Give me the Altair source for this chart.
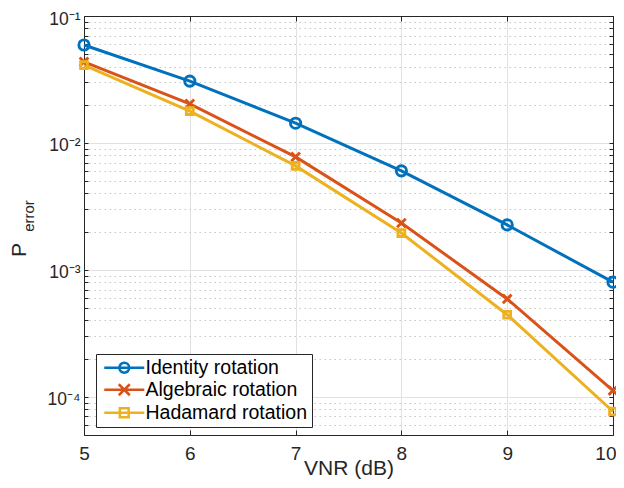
import altair as alt
import pandas as pd

# ---- data ----
vnr = [5, 6, 7, 8, 9, 10]
identity = [0.0591, 0.0307, 0.0143, 0.00603, 0.00226, 0.00080]
algebraic = [0.0435, 0.0203, 0.00776, 0.00234, 0.00059, 0.000112]
hadamard = [0.0410, 0.0178, 0.00659, 0.00195, 0.000443, 0.0000766]
series = ["Identity rotation", "Algebraic rotation", "Hadamard rotation"]
colors = ["#0072BD", "#D95319", "#EDB120"]

x_ticks = [5, 6, 7, 8, 9, 10]
y_major = [1e-4, 1e-3, 1e-2, 1e-1]
y_major_labels = ["10⁻⁴", "10⁻³", "10⁻²", "10⁻¹"]
y_minor = [m * 10.0 ** e for e in (-5, -4, -3, -2) for m in range(2, 10) if m * 10.0 ** e >= 5e-5]
y_ticks = sorted(y_minor + y_major)
y_domain = [5e-5, 1e-1]

FONT = "Liberation Sans"
AX = "#262626"

rows = []
for name, vals in zip(series, [identity, algebraic, hadamard]):
    for xv, yv in zip(vnr, vals):
        rows.append({"vnr": xv, "perr": yv, "series": name})
df = pd.DataFrame(rows)

xscale = alt.Scale(domain=[5, 10], nice=False, zero=False)
yscale = alt.Scale(type="log", domain=y_domain, nice=False)

is_major = "abs(log(datum.value)/LN10 - round(log(datum.value)/LN10)) < 1e-6"
lab_arr = "[" + ",".join("'" + s + "'" for s in y_major_labels) + "]"
label_expr = f"({is_major}) ? {lab_arr}[round(log(datum.value)/LN10) + 4] : ''"
last_x = f"datum.value == {x_ticks[-1]}"

x_axis = alt.Axis(values=x_ticks, title="VNR (dB)", grid=True, gridColor="#e1e1e1",
                  gridWidth=1, domainColor=AX, tickColor=AX, tickSize=alt.ExprRef("-5"),
                  labelFont=FONT, labelFontSize=19, labelColor=AX, labelPadding=14,
                  labelAlign={"condition": {"test": last_x, "value": "right"}, "value": "center"},
                  labelOffset={"condition": {"test": last_x, "value": 3}, "value": 0},
                  titleFont=FONT, titleFontSize=21, titleColor=AX, titleFontWeight="normal",
                  titlePadding=alt.ExprRef("-6"), labelFlush=False)
y_axis = alt.Axis(values=y_ticks, title=None, labelExpr=label_expr, grid=True,
                  gridColor={"condition": {"test": is_major, "value": "#e1e1e1"}, "value": "#c6c6c6"},
                  gridDash={"condition": {"test": is_major, "value": []}, "value": [1.5, 3.5]},
                  gridWidth=1, domainColor=AX, tickColor=AX, tickSize=alt.ExprRef("-4"),
                  labelFont=FONT, labelFontSize=17.5, labelColor=AX, labelPadding=8,
                  labelOffset=3, labelFlush=False)

color_scale = alt.Scale(domain=series, range=colors)

lines = alt.Chart(df).mark_line(strokeWidth=3).encode(
    x=alt.X("vnr:Q", scale=xscale, axis=x_axis),
    y=alt.Y("perr:Q", scale=yscale, axis=y_axis),
    color=alt.Color("series:N", scale=color_scale, legend=None),
    detail="series:N",
)

x_path = "M-1,-1L1,1M-1,1L1,-1"
points = alt.Chart(df).mark_point(filled=False, strokeWidth=2.9, opacity=1).encode(
    x=alt.X("vnr:Q", scale=xscale, axis=None),
    y=alt.Y("perr:Q", scale=yscale, axis=None),
    color=alt.Color("series:N", scale=color_scale, legend=None),
    shape=alt.Shape("series:N", scale=alt.Scale(domain=series, range=["circle", x_path, "square"]), legend=None),
    size=alt.Size("series:N", scale=alt.Scale(domain=series, range=[105, 46, 135]), legend=None),
)

# legend symbols: line with marker (units of 5.5px at size 121)
c = 2.64
leg_circle = f"M-1,0L6.28,0M{c+0.9},0A0.9,0.9 0 1,1 {c-0.9},0A0.9,0.9 0 1,1 {c+0.9},0"
leg_x = f"M-1,0L6.28,0M{c-1},-1L{c+1},1M{c-1},1L{c+1},-1"
leg_sq = f"M-1,0L6.28,0M{c-0.8},-0.8h1.6v1.6h-1.6Z"

frame = alt.Chart(df).transform_filter("false").mark_point(filled=False, opacity=1, strokeWidth=2.5).encode(
    x=alt.X("vnr:Q", scale=xscale,
            axis=alt.Axis(orient="top", values=x_ticks, labels=False, grid=False, title=None,
                          domainColor=AX, tickColor=AX, tickSize=alt.ExprRef("-5"))),
    y=alt.Y("perr:Q", scale=yscale,
            axis=alt.Axis(orient="right", values=y_ticks, labels=False, grid=False, title=None,
                          domainColor=AX, tickColor=AX, tickSize=alt.ExprRef("-4"))),
    color=alt.Color("series:N", scale=color_scale,
                    legend=alt.Legend(title=None, orient="none", legendX=12, legendY=338,
                                      labelFont=FONT, labelFontSize=19.5, labelColor="black",
                                      symbolSize=121, symbolStrokeWidth=2.5, labelOffset=26,
                                      strokeColor=AX, fillColor="white", padding=4,
                                      rowPadding=1, symbolOpacity=1, labelLimit=400)),
    shape=alt.Shape("series:N", scale=alt.Scale(domain=series, range=[leg_circle, leg_x, leg_sq]),
                    legend=alt.Legend(title=None)),
)

one = alt.Data(values=[{"a": 1}])
p_text = alt.Chart(one).mark_text(text="P", angle=270, font=FONT, fontSize=21, color=AX,
                                  align="center", baseline="alphabetic").encode(
    x=alt.value(-58), y=alt.value(234))
err_text = alt.Chart(one).mark_text(text="error", angle=270, font=FONT, fontSize=15, color=AX,
                                    align="center", baseline="alphabetic").encode(
    x=alt.value(-50), y=alt.value(200))

chart = alt.layer(lines, points, frame, p_text, err_text).resolve_scale(
    color="independent", shape="independent"
).resolve_axis(x="independent", y="independent").properties(
    width=529, height=419,
    autosize=alt.AutoSizeParams(type="none"),
    padding={"left": 76, "top": 8, "right": 3, "bottom": 45},
).configure_view(stroke=None)

chart.save("out.html", embed_options={"renderer": "svg", "actions": False})
